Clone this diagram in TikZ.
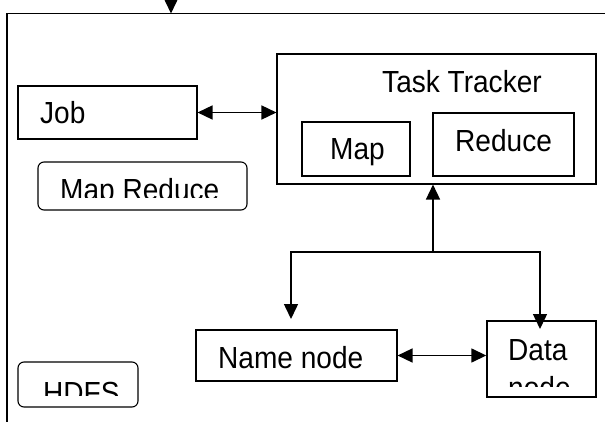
\documentclass[tikz,border=0pt]{standalone}
\usepackage{fontspec}
\setmainfont{Liberation Sans}[FakeStretch=0.92]
\usetikzlibrary{arrows.meta, positioning}
\tikzset{
box/.style={draw, line width=1.1pt, inner sep=0pt}, % plain rectangle
roundbox/.style={box, rounded corners=6pt}, % rectangle with round corners
txt/.style={anchor=base west, inner sep=0pt, font=\fontsize{30.5}{36}\selectfont},
conn/.style={line width=1.5pt, -{Triangle[length=15pt,width=14pt]}},
twoway/.style={line width=1.5pt, {Triangle[length=15pt,width=14pt]}-{Triangle[length=15pt,width=14pt]}},
}

\begin{document}
\begin{tikzpicture}[x=1pt, y=-1pt]
\useasboundingbox (0,0) rectangle (605,422);

% outer frame
\draw[line width=1.3pt] (7,422) -- (7,13.5) -- (605,13.5);
\coordinate (frame in) at (171,13.5);
\coordinate (top) at (171,-1);
\draw[conn] (top) -- (frame in);

\node[box, minimum width=179pt, minimum height=53pt] at (107.5,112.5) (job) {};
\node[roundbox, minimum width=209pt, minimum height=48pt] at (142.5,186) (mapreduce) {};
\node[box, minimum width=319pt, minimum height=130pt] at (436.5,119) (tt) {};
\node[box, minimum width=108pt, minimum height=54pt] at (356,149) (map) {};
\node[box, minimum width=141pt, minimum height=63pt] at (503.5,144.5) (reduce) {};
\node[box, minimum width=201pt, minimum height=51pt] at (296.5,355.5) (namenode) {};
\node[box, line width=1.4pt, minimum width=109pt, minimum height=76pt] at (541.5,359) (datanode) {};
\node[roundbox, minimum width=120pt, minimum height=45pt] at (78,384.5) (hdfs) {};

\node[txt] at (40,124) (job text) {Job};
\node[txt] at (382,93) (tt text) {Task Tracker};
\node[txt] at (330,160) (map text) {Map};
\node[txt] at (455,152) (reduce text) {Reduce};
\node[txt] at (218,368) (namenode text) {Name node};
\node[txt] at (508,360) (data text) {Data};

% text cut off by its box
\begin{scope}
\clip (38,162) rectangle (247,198);
\node[txt] at (60,201) (mapreduce text) {Map Reduce};
\end{scope}
\begin{scope}
\clip (487,321) rectangle (596,386.5);
\node[txt] at (508,398) (node text) {node};
\end{scope}
\begin{scope}
\clip (18,362) rectangle (138,395);
\node[txt] at (43,403) (hdfs text) {HDFS};
\end{scope}

\draw[twoway] (job.east) -- (job.east -| tt.west);
\draw[twoway] (namenode.east) -- (namenode.east -| datanode.west);

\coordinate (split) at (433,252);
\coordinate (nn in) at (291,319);
\coordinate (dn in) at (540,329);
\draw[conn] (split) -- (split |- tt.south);
\draw[conn] (split) -| (nn in);
\draw[conn] (split) -| (dn in);

\end{tikzpicture}
\end{document}
